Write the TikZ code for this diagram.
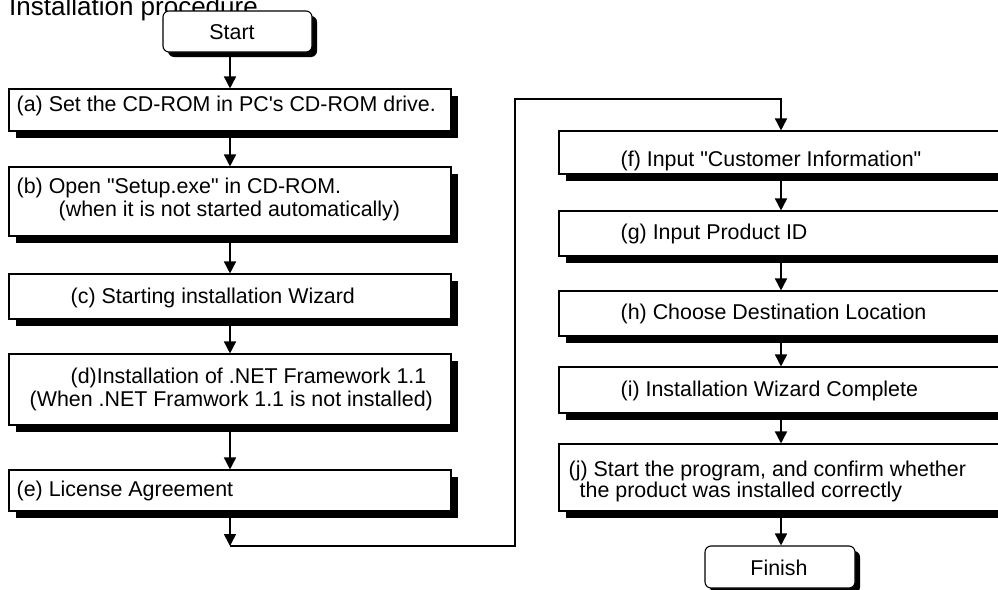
\documentclass[tikz,border=0pt]{standalone}
\usepackage{fontspec}
\setmainfont{Liberation Sans}[Ligatures=TeXOff]
\usetikzlibrary{arrows.meta,shadows}
\tikzset{
  stepbox/.style={draw, line width=1.1pt, fill=white, inner sep=0pt,
    drop shadow={shadow xshift=7pt, shadow yshift=-7pt, fill=black, opacity=1}},
  termbox/.style={draw, line width=1.1pt, fill=white, inner sep=0pt, rounded corners=6pt,
    drop shadow={shadow xshift=5pt, shadow yshift=-5pt, fill=black, opacity=1}},
  lbl/.style={anchor=base west, inner sep=0pt, font=\fontsize{21.4}{25}\selectfont},
  clbl/.style={anchor=base, inner sep=0pt, font=\fontsize{21.4}{25}\selectfont},
  arr/.style={line width=1.6pt, -{Triangle[length=12pt,width=12pt]}},
  conn/.style={line width=1.6pt}
}
\begin{document}
\begin{tikzpicture}[x=1pt,y=-1pt]
\useasboundingbox (0,0) rectangle (998,589);
\clip (0,0) rectangle (998,589);
\fill[white] (0,0) rectangle (998,589);

% title
\node[anchor=base west, inner sep=0pt, font=\fontsize{26}{30}\selectfont] (title) at (9,15) {Installation procedure};

% left column boxes
\node[termbox, minimum width=149pt, minimum height=41pt] (start) at (237.5,31.5) {};
\node[stepbox, minimum width=442pt, minimum height=42pt] (a) at (230,110) {};
\node[stepbox, minimum width=442pt, minimum height=69pt] (b) at (230,201.5) {};
\node[stepbox, minimum width=442pt, minimum height=45pt] (c) at (230,296.5) {};
\node[stepbox, minimum width=442pt, minimum height=71pt] (d) at (230,389.5) {};
\node[stepbox, minimum width=442pt, minimum height=41pt] (e) at (230,490.5) {};

% right column boxes
\node[stepbox, minimum width=444pt, minimum height=43pt] (f) at (781,152.5) {};
\node[stepbox, minimum width=444pt, minimum height=45pt] (g) at (781,233.5) {};
\node[stepbox, minimum width=444pt, minimum height=45pt] (h) at (781,313.5) {};
\node[stepbox, minimum width=444pt, minimum height=46pt] (i) at (781,390) {};
\node[stepbox, minimum width=444pt, minimum height=67pt] (j) at (781,477.5) {};
\node[termbox, minimum width=150pt, minimum height=42pt] (finish) at (780,567) {};

% texts
\node[clbl] (tstart) at (232,39.5) {Start};
\node[lbl] (ta) at (16.5,111) {(a) Set the CD-ROM in PC's CD-ROM drive.};
\node[lbl] (tb1) at (16.5,193) {(b) Open "Setup.exe" in CD-ROM.};
\node[lbl] (tb2) at (58.5,216) {(when it is not started automatically)};
\node[lbl] (tc) at (70.5,303) {(c) Starting installation Wizard};
\node[lbl] (td1) at (70.5,383) {(d)Installation of .NET Framework 1.1};
\node[lbl] (td2) at (29.5,406) {(When .NET Framwork 1.1 is not installed)};
\node[lbl] (te) at (16.5,496) {(e) License Agreement};
\node[lbl] (tf) at (620.5,166) {(f) Input "Customer Information"};
\node[lbl] (tg) at (620.5,239) {(g) Input Product ID};
\node[lbl] (th) at (620.5,319) {(h) Choose Destination Location};
\node[lbl] (ti) at (620.5,396) {(i) Installation Wizard Complete};
\node[lbl] (tj1) at (568.5,476) {(j) Start the program, and confirm whether};
\node[lbl] (tj2) at (579.5,497) {the product was installed correctly};
\node[clbl] (tfinish) at (779,575) {Finish};

% connectors
\coordinate (k1) at (230,546);
\coordinate (k2) at (515,546);
\coordinate (k3) at (515,99);
\coordinate (k4) at (781,99);
\draw[arr] (start.south -| a.north) -- (a.north);
\draw[arr] (a.south) -- (b.north);
\draw[arr] (b.south) -- (c.north);
\draw[arr] (c.south) -- (d.north);
\draw[arr] (d.south) -- (e.north);
\draw[arr] (e.south) -- (k1);
\draw[arr] (k1) -- (k2) -- (k3) -- (k4) -- (f.north);
\draw[arr] (f.south) -- (g.north);
\draw[arr] (g.south) -- (h.north);
\draw[arr] (h.south) -- (i.north);
\draw[arr] (i.south) -- (j.north);
\draw[arr] (j.south) -- (finish.north -| j.south);
\end{tikzpicture}
\end{document}
